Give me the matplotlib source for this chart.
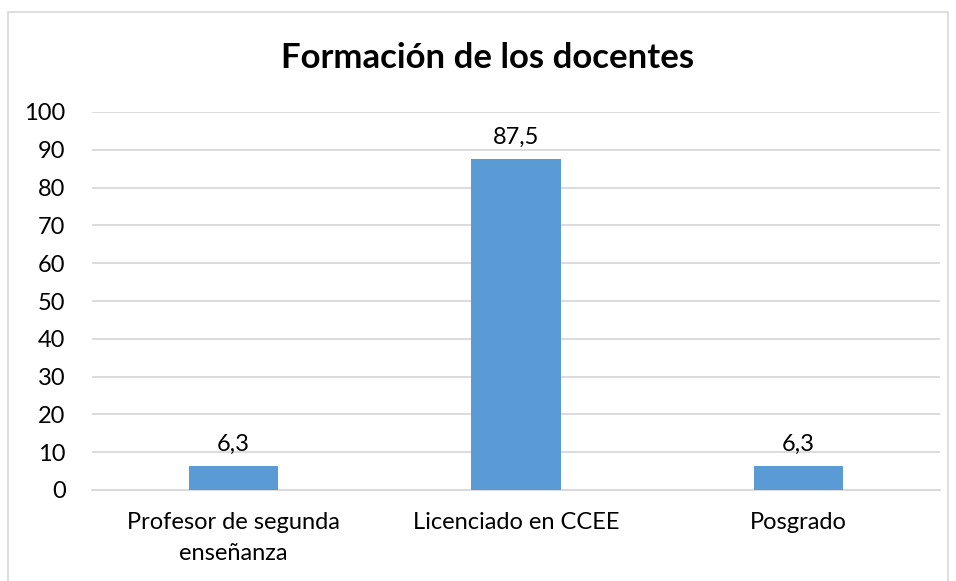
import matplotlib.pyplot as plt
from matplotlib.patches import Rectangle

categorias = ["Profesor de segunda\nenseñanza", "Licenciado en CCEE", "Posgrado"]
porcentajes = [6.3, 87.5, 6.3]
etiquetas = ["6,3", "87,5", "6,3"]

plt.rcParams['font.family'] = ['Lato', 'DejaVu Sans']

fig = plt.figure(figsize=(9.56, 5.81), dpi=100)
ax = fig.add_axes([92 / 956, 1 - 490 / 581, 848 / 956, 378 / 581])

# marco gris del grafico (cortado por abajo)
fig.patches.append(Rectangle((8 / 956, -0.1), 940 / 956, 1.1 - 12 / 581,
                             transform=fig.transFigure, fill=False,
                             edgecolor='#d9d9d9', linewidth=1.2))

x = range(len(categorias))
barras = ax.bar(x, porcentajes, width=0.315, color='#5b9bd5', zorder=3)

for rect, txt in zip(barras, etiquetas):
    ax.annotate(txt, xy=(rect.get_x() + rect.get_width() / 2, rect.get_height()),
                xytext=(0, 8), textcoords="offset points",
                ha='center', va='bottom', fontsize=17, color='#000000')

ax.set_xlim(-0.5, 2.5)
ax.set_ylim(0, 100)
ax.set_yticks(range(0, 101, 10))
ax.set_xticks(list(x))
ax.set_xticklabels(categorias, fontsize=17, linespacing=1.6)
ax.tick_params(axis='y', labelsize=17, length=0, pad=19)
ax.tick_params(axis='x', length=0, pad=16)
ax.grid(axis='y', color='#d9d9d9', linewidth=1.3, zorder=0)
for s in ['left', 'right', 'top']:
    ax.spines[s].set_visible(False)
ax.spines['bottom'].set_color('#d9d9d9')
ax.spines['bottom'].set_linewidth(1.3)

fig.text(488 / 956, 1 - 58 / 581, "Formación de los docentes", ha='center', va='center',
         fontsize=25, fontweight='bold')

fig.savefig("out.png", dpi=100)
